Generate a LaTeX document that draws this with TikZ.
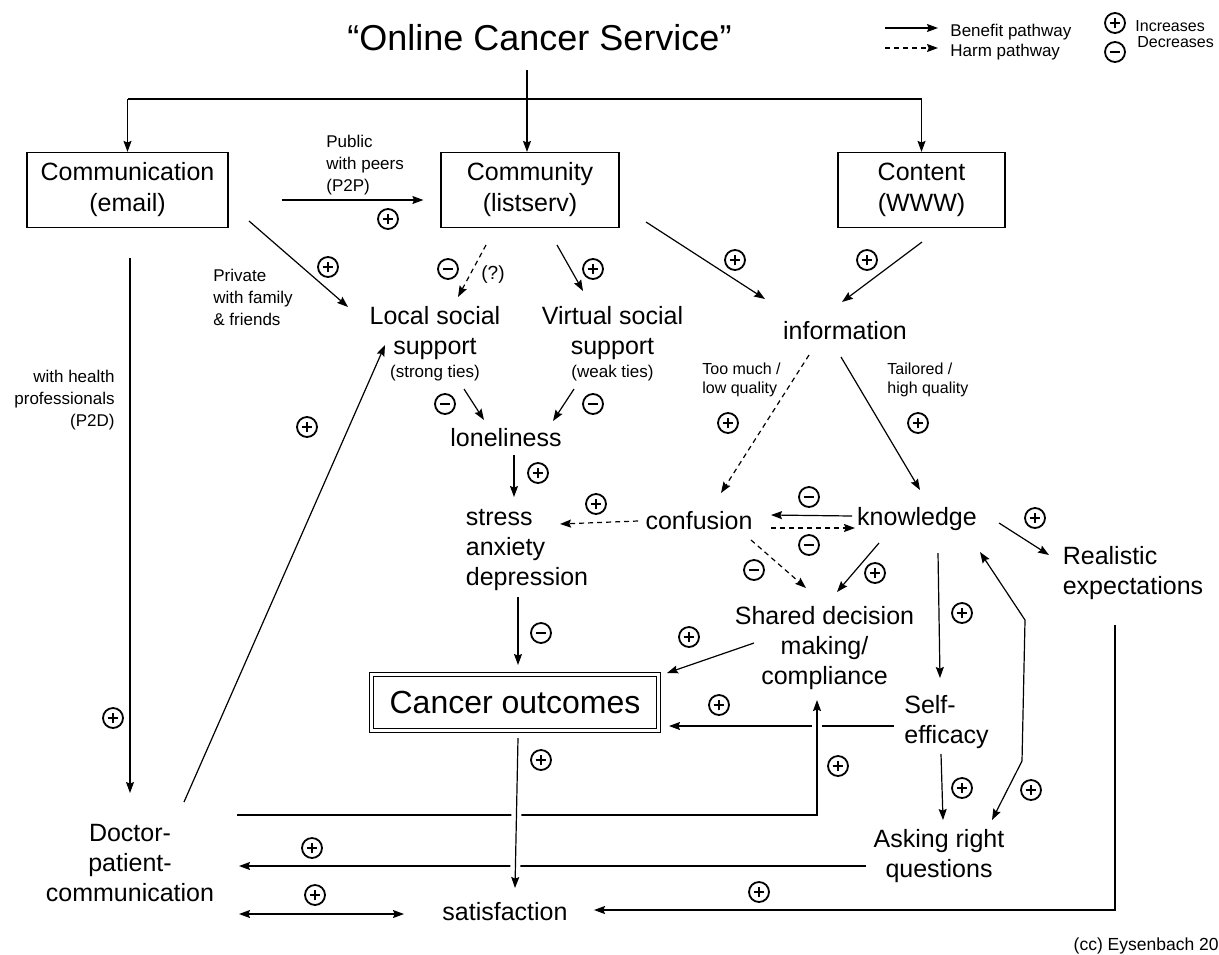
\documentclass[tikz,border=0pt]{standalone}
\usepackage{fontspec}
\setmainfont{Liberation Sans}
\usetikzlibrary{arrows.meta}

\begin{document}
\begin{tikzpicture}[x=0.5pt, y=-0.5pt, >={Stealth[length=5.5pt,width=4pt,inset=0.8pt]},
  txt/.style={align=center, inner sep=0pt, font=\fontsize{12.5}{15}\selectfont},
  small/.style={align=left, inner sep=0pt, font=\fontsize{8.5}{11}\selectfont},
  box/.style={draw, line width=0.6pt, minimum height=37.5pt, align=center, font=\fontsize{12.5}{15.5}\selectfont},
  outbox/.style={draw, double, line width=0.6pt, double distance=1.2pt, minimum width=143.6pt, minimum height=28pt, font=\fontsize{16}{19}\selectfont},
  benefit/.style={->, line width=0.6pt},
  harm/.style={->, line width=0.6pt, dash pattern=on 2.5pt off 2pt},
  halo/.style={preaction={draw, white, line width=5pt}},
  signbase/.style={circle, draw, line width=0.9pt, minimum size=10pt, inner sep=0pt},
  incr/.style={signbase, path picture={
    \draw[line width=0.8pt] ([xshift=-2.7pt]path picture bounding box.center) -- ([xshift=2.7pt]path picture bounding box.center)
      ([yshift=-2.7pt]path picture bounding box.center) -- ([yshift=2.7pt]path picture bounding box.center);}},
  decr/.style={signbase, path picture={
    \draw[line width=0.8pt] ([xshift=-2.7pt]path picture bounding box.center) -- ([xshift=2.7pt]path picture bounding box.center);}}]

\useasboundingbox (0,0) rectangle (1219,954);

% top level
\node[txt, font=\fontsize{18}{22}\selectfont] (title) at (539.5,38) {“Online Cancer Service”};
\node[box, minimum width=100.5pt] (email) at (127.5,190) {Communication\\(email)};
\node[box, minimum width=89pt] (listserv) at (530,190) {Community\\(listserv)};
\node[box, minimum width=83.5pt] (www) at (921.5,190) {Content\\(WWW)};
\coordinate (bar) at (527,99);

% outcomes and mediators
\node[txt] (localss) at (435,333) {Local social\\support};
\node[small, align=center] (strong) at (435,373) {(strong ties)};
\node[txt] (virtualss) at (612.5,333) {Virtual social\\support};
\node[small, align=center] (weak) at (612.5,373) {(weak ties)};
\node[txt] (info) at (845,331) {information};
\node[txt] (lonely) at (506,438) {loneliness};
\node[txt, align=left] (stress) at (527,549.5) {stress\\anxiety\\depression};
\node[txt] (confusion) at (699,521) {confusion};
\node[txt] (knowledge) at (917,519) {knowledge};
\node[txt, align=left] (realistic) at (1133,573) {Realistic\\expectations};
\node[txt] (shared) at (824.5,648) {Shared decision\\making/\\compliance};
\node[outbox] (outcomes) at (515,702.5) {Cancer outcomes};
\node[txt, align=left] (selfeff) at (946.5,722) {Self-\\efficacy};
\node[txt] (asking) at (939,856) {Asking right\\questions};
\node[txt] (doctor) at (130,863) {Doctor-\\patient-\\communication};
\node[txt] (satisf) at (505,912) {satisfaction};

% path labels
\node[small, anchor=west] (p2p) at (326,165) {Public\\with peers\\(P2P)};
\node[small, anchor=west] (private) at (213,297) {Private\\with family\\\& friends};
\node[small, align=right, anchor=east] (p2d) at (115,400) {with health\\professionals\\(P2D)};
\node[txt, font=\fontsize{9.5}{11}\selectfont] (unsure) at (493,275) {(?)};
\node[small, anchor=west, font=\fontsize{8}{9.75}\selectfont] (toomuch) at (702,380) {Too much /\\low quality};
\node[small, anchor=west, font=\fontsize{8}{9.75}\selectfont] (tailored) at (887,380) {Tailored /\\high quality};
\node[small, anchor=east, font=\fontsize{8.75}{10}\selectfont] (cc) at (1219,946) {(cc) Eysenbach 20};

% legend
\node[small, anchor=west] (legben) at (950,32) {Benefit pathway};
\node[small, anchor=west] (legharm) at (950,52) {Harm pathway};
\draw[benefit] ([shift={(-65,-4)}]legben.west) -- ([shift={(-12,-4)}]legben.west);
\draw[harm] ([shift={(-65,-4)}]legharm.west) -- ([shift={(-12,-4)}]legharm.west);
\node[incr] (leginc) at (1115,23) {};
\node[small, anchor=west, font=\fontsize{8}{10}\selectfont] (inctext) at (1135,26.5) {Increases};
\node[decr] (legdec) at (1115,52) {};
\node[small, anchor=west, font=\fontsize{8}{10}\selectfont] (dectext) at (1137,42) {Decreases};

% service split
\draw[benefit] ([shift={(-12.5,32)}]title.center) -- ([shift={(-3,0)}]listserv.north);
\draw[line width=0.6pt] (bar -| email.north) -- (bar -| www.north);
\draw[benefit] (bar -| email.north) -- (email.north);
\draw[benefit] (bar -| www.north) -- (www.north);

% pathways
\draw[benefit] ([shift={(53,10)}]email.east) -- ([shift={(-17,10)}]listserv.west);
\draw[benefit] ([shift={(121.5,31)}]email.center) -- ([shift={(-87,-26)}]localss.center);
\draw[harm] ([shift={(-44,55)}]listserv.center) -- ([shift={(23,-36)}]localss.center);
\draw[benefit] ([shift={(27,55)}]listserv.center) -- ([shift={(-29.5,-42)}]virtualss.center);
\draw[benefit] ([shift={(116,32)}]listserv.center) -- ([shift={(-80,-32)}]info.center);
\draw[benefit] ([shift={(0.5,52)}]www.center) -- ([shift={(-3,-29)}]info.center);
\draw[benefit] ([shift={(2.5,68)}]email.center) -- ([shift={(0,-70)}]doctor.center);
\draw[benefit] ([shift={(54,-61)}]doctor.center) -- ([shift={(-50,12)}]localss.center);
\draw[benefit] ([shift={(29,56)}]localss.center) -- ([shift={(-22,-18)}]lonely.center);
\draw[benefit] ([shift={(-38.5,56)}]virtualss.center) -- ([shift={(47,-17)}]lonely.center);
\draw[benefit] ([shift={(8,17)}]lonely.center) -- ([shift={(-13,-52.5)}]stress.center);
\draw[harm] ([shift={(-36,24)}]info.center) -- ([shift={(22,-28)}]confusion.center);
\draw[benefit] ([shift={(-4,26)}]info.center) -- ([shift={(3,-29)}]knowledge.center);
\draw[harm] ([shift={(-61,0)}]confusion.center) -- ([shift={(33,-25.5)}]stress.center);
\draw[benefit] ([shift={(-65,-3)}]knowledge.center) -- ([shift={(72,-6)}]confusion.center);
\draw[harm] ([shift={(72,7)}]confusion.center) -- ([shift={(-62,9)}]knowledge.center);
\draw[harm] ([shift={(52,19)}]confusion.center) -- ([shift={(-18.5,-60)}]shared.center);
\draw[benefit] ([shift={(-38,24)}]knowledge.center) -- ([shift={(12.5,-56)}]shared.center);
\draw[benefit] ([shift={(82,4)}]knowledge.center) -- ([shift={(-84,-18)}]realistic.center);
\draw[benefit] ([shift={(21,34)}]knowledge.center) -- ([shift={(-6.5,-44)}]selfeff.center);
\draw[benefit] ([shift={(-9,47.5)}]stress.center) -- ([shift={(3,-37.5)}]outcomes.center);
\draw[benefit] ([shift={(-70.5,-5)}]shared.center) -- ([shift={(152,-29.5)}]outcomes.center);
\draw[benefit] ([shift={(-52.5,4)}]selfeff.center) -- ([shift={(154,23.5)}]outcomes.center);
\draw[benefit] ([shift={(-5.5,32)}]selfeff.center) -- ([shift={(4,-36)}]asking.center);
\draw[benefit, <->] ([shift={(53,-36)}]asking.center) -- ++(30,-59) -- ++(3,-141) -- ([shift={(63,33)}]knowledge.center);
\draw[benefit] ([shift={(-73,10)}]asking.center) -- ([shift={(109,3)}]doctor.center);
\draw[benefit, <->] ([shift={(109,51)}]doctor.center) -- ([shift={(-101,2)}]satisf.center);
\draw[benefit] ([shift={(-18,52)}]realistic.center) |- ([shift={(89,-2)}]satisf.center);
\draw[benefit, halo] ([shift={(107,-48)}]doctor.center) -| ([shift={(-7.5,52)}]shared.center);
\draw[benefit, halo] ([shift={(3,35.5)}]outcomes.center) -- ([shift={(10,-24)}]satisf.center);

% effect signs
\foreach \x/\y [count=\i] in {388/219, 328/267, 113/718, 307/427, 593/269, 735/260, 867/260, 538/473,
    728/423, 918/423, 596/504, 875/573, 1035/518, 962/613, 689/637, 719/705, 838/766, 541/760,
    962/788, 1031/790, 312/848, 315/895, 759/892}
  \node[incr] (inc\i) at (\x,\y) {};
\foreach \x/\y [count=\i] in {448/269, 445/404, 593/404, 809/497, 809/545, 754/570, 541/633}
  \node[decr] (dec\i) at (\x,\y) {};

\end{tikzpicture}
\end{document}
